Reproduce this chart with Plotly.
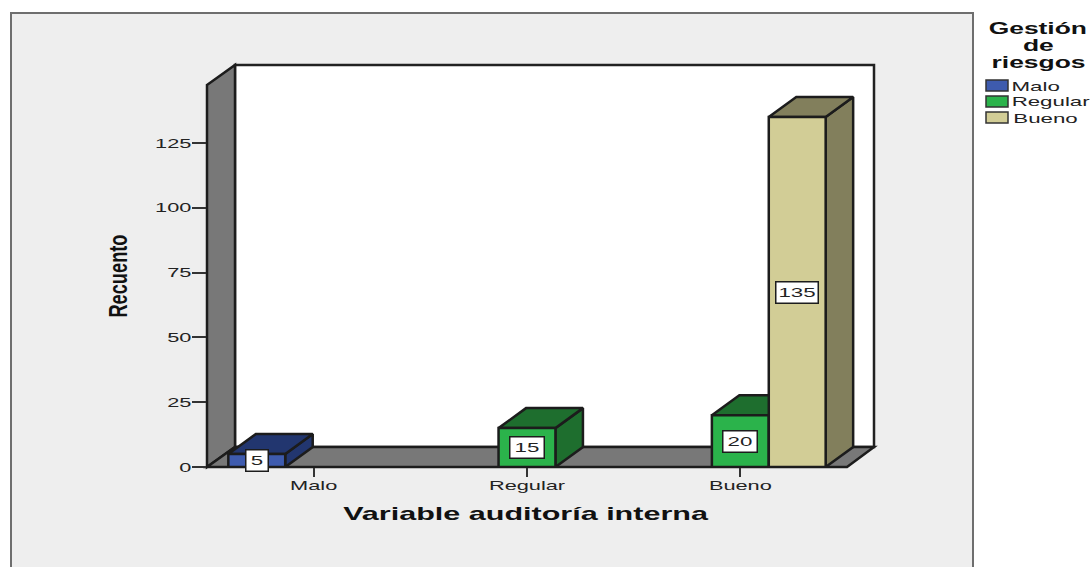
import plotly.graph_objects as go

# Chart data
categories = ["Malo", "Regular", "Bueno"]
series_names = ["Malo", "Regular", "Bueno"]
malo_values = [5, None, None]
regular_values = [None, 15, 20]
bueno_values = [None, None, 135]
y_ticks = [0, 25, 50, 75, 100, 125]
x_title = "Variable auditoría interna"
y_title = "Recuento"
legend_title_lines = ["Gestión", "de", "riesgos"]

# Colours per series: front, darker top and side
FRONT = ["#3E5BAE", "#2BB34B", "#D2CD96"]
TOP = ["#22366F", "#1E6E2E", "#827F5C"]
OUTLINE = "#1c1c1c"
WALL = "#787878"
PANEL = "#EEEEEE"
TEXT = "#222222"
FONT = "Liberation Sans"

# Canvas and plot frame, in pixels
W, H = 1091, 567
LEFT, RIGHT, TOP_PX, FLOOR = 207, 874, 65, 467
BAND_PX = 213.33
UNIT_PX = 2.592
DX_PX, DY_PX = 27.5, 20

x_range = [-0.5, -0.5 + (RIGHT - LEFT) / BAND_PX]
y_range = [0, (FLOOR - TOP_PX) / UNIT_PX]
BARGAP = 0.2
BAR_W = (1 - BARGAP) / 3
DEPTH_X = DX_PX / BAND_PX
DEPTH_Y = DY_PX / UNIT_PX
LABEL_BOX_W = {1: 19, 2: 31, 3: 39}
LEGEND_TEXT_CENTER = [1035, 1051, 1045.5]


def px(x):
    return (x - LEFT) / (RIGHT - LEFT)


def py(y):
    return (FLOOR - y) / (FLOOR - TOP_PX)


def poly(points, fill, line=OUTLINE, width=2.5):
    path = "M" + "L".join(f"{px(x):.5f},{py(y):.5f}" for x, y in points) + "Z"
    return dict(type="path", xref="paper", yref="paper", path=path, fillcolor=fill,
                line=dict(color=line, width=width), layer="below")


def paper_text(x, y, text, font, **kw):
    return dict(x=px(x), y=py(y), xref="paper", yref="paper", text=text, showarrow=False,
                xanchor="center", yanchor="middle", font=font, **kw)


shapes = [
    # panel behind the chart
    poly([(11, 13), (973, 13), (973, 590), (11, 590)], PANEL, "#6e6e6e", 2),
    # back wall, left wall and floor
    poly([(235, 65), (874, 65), (874, 447), (235, 447)], "white", "#222222", 2.5),
    poly([(207, 85), (235, 65), (235, 447), (207, 467)], WALL),
    poly([(207, 467), (235, 447), (874, 447), (847, 467)], WALL),
]

fig = go.Figure()
all_series = [malo_values, regular_values, bueno_values]

# Top and side faces of each bar sit on the main axes, under the fronts
for s, values in enumerate(all_series):
    for i, v in enumerate(values):
        if v is None:
            continue
        x0 = i + (s - 1.5) * BAR_W
        x1 = x0 + BAR_W
        top_x = [x0, x0 + DEPTH_X, x1 + DEPTH_X, x1, x0]
        top_y = [v, v + DEPTH_Y, v + DEPTH_Y, v, v]
        side_x = [x1, x1 + DEPTH_X, x1 + DEPTH_X, x1, x1]
        side_y = [0, DEPTH_Y, v + DEPTH_Y, v, 0]
        for fx, fy in ((side_x, side_y), (top_x, top_y)):
            fig.add_trace(go.Scatter(
                x=fx, y=fy, mode="lines", fill="toself", fillcolor=TOP[s],
                line=dict(color=OUTLINE, width=2.5), hoverinfo="skip", showlegend=False,
                xaxis="x", yaxis="y",
            ))

# Bar fronts on an overlaid pair of axes so they cover neighbouring depth faces
for s, values in enumerate(all_series):
    fig.add_trace(go.Bar(
        x=list(range(len(categories))), y=values, name=series_names[s],
        marker=dict(color=FRONT[s], line=dict(color=OUTLINE, width=2.5)),
        xaxis="x2", yaxis="y2", showlegend=False,
    ))

annotations = []
# Value labels in white boxes at the middle of each bar
for s, values in enumerate(all_series):
    for i, v in enumerate(values):
        if v is None:
            continue
        annotations.append(dict(
            x=i + (s - 1) * BAR_W, y=v / 2, xref="x2", yref="y2", text=str(v), showarrow=False,
            font=dict(family=FONT, size=13.5, color=TEXT), bgcolor="white",
            bordercolor=OUTLINE, borderwidth=1.5, borderpad=1,
            width=LABEL_BOX_W[len(str(v))], height=18,
        ))

# Axis titles
annotations.append(paper_text(525.5, 513, f"<b>{x_title}</b>",
                              dict(family=FONT, size=18.5, color="#111111")))
annotations.append(paper_text(118, 276, f"<b>{y_title}</b>",
                              dict(family=FONT, size=25, color="#111111"), textangle=-90))

# Legend block to the right of the panel
for n, line in enumerate(legend_title_lines):
    annotations.append(paper_text(1038, 29 + 16.5 * n, f"<b>{line}</b>",
                                  dict(family=FONT, size=16, color="#111111")))
for s, name in enumerate(series_names):
    row = 86 + 16 * s
    shapes.append(poly([(986, row - 6), (1008, row - 6), (1008, row + 5), (986, row + 5)],
                       FRONT[s], "#333333", 1.5))
    annotations.append(paper_text(LEGEND_TEXT_CENTER[s], row, name,
                                  dict(family=FONT, size=13.5, color=TEXT)))

fig.update_layout(
    width=W, height=H, autosize=False,
    margin=dict(l=LEFT, r=W - RIGHT, t=TOP_PX, b=H - FLOOR, pad=0),
    paper_bgcolor="white", plot_bgcolor="rgba(0,0,0,0)",
    barmode="group", bargap=BARGAP, bargroupgap=0,
    showlegend=False, shapes=shapes, annotations=annotations,
    font=dict(family=FONT, size=13.2, color=TEXT),
    xaxis=dict(
        range=x_range, tickvals=list(range(len(categories))), ticktext=categories,
        ticks="outside", ticklen=9, tickwidth=2, tickcolor="#333333",
        showgrid=False, zeroline=False, showline=False, ticklabelstandoff=-3,
    ),
    yaxis=dict(
        range=y_range, tickvals=y_ticks, ticks="outside", ticklen=14, tickwidth=2,
        tickcolor="#333333", showgrid=False, zeroline=False, showline=False,
        ticklabelstandoff=-2,
    ),
    xaxis2=dict(range=x_range, overlaying="x", visible=False),
    yaxis2=dict(range=y_range, overlaying="y", visible=False),
)

# Wide lettering: horizontal text is stretched, the rotated axis title is squeezed
widen_text = """
document.querySelectorAll('.main-svg text').forEach(function (t) {
  var len = t.getComputedTextLength();
  if (!len) return;
  var target = t.textContent === 'Recuento' ? 83 : len * 1.65;
  t.setAttribute('textLength', target);
  t.setAttribute('lengthAdjust', 'spacingAndGlyphs');
});
"""

fig.write_html("out.html", post_script=widen_text)
